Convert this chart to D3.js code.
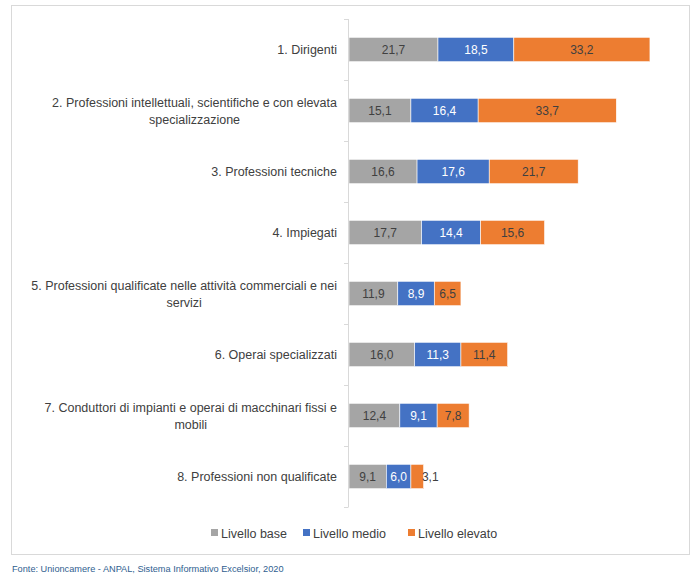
<!DOCTYPE html>
<html>
<head>
<meta charset="utf-8">
<script src="https://cdn.jsdelivr.net/npm/d3@7"></script>
<style>
  html, body { margin: 0; padding: 0; background: #fff; }
  svg { display: block; font-family: "Liberation Sans", Arial, sans-serif; }
</style>
</head>
<body>
<svg id="chart" width="692" height="576"></svg>
<script>
const categories = [
  ["1. Dirigenti"],
  ["2. Professioni intellettuali, scientifiche e con elevata", "specializzazione"],
  ["3. Professioni tecniche"],
  ["4. Impiegati"],
  ["5. Professioni qualificate nelle attività commerciali e nei", "servizi"],
  ["6. Operai specializzati"],
  ["7. Conduttori di impianti e operai di macchinari fissi e", "mobili"],
  ["8. Professioni non qualificate"]
];
const seriesNames = ["Livello base", "Livello medio", "Livello elevato"];
const livelloBase    = [21.7, 15.1, 16.6, 17.7, 11.9, 16.0, 12.4, 9.1];
const livelloMedio   = [18.5, 16.4, 17.6, 14.4, 8.9, 11.3, 9.1, 6.0];
const livelloElevato = [33.2, 33.7, 21.7, 15.6, 6.5, 11.4, 7.8, 3.1];
const colors = ["#A5A5A5", "#4472C4", "#ED7D31"];
const labelColors = ["#404040", "#FFFFFF", "#404040"];
const sourceText = "Fonte: Unioncamere - ANPAL, Sistema Informativo Excelsior, 2020";

const svg = d3.select("#chart");

// frame
svg.append("rect").attr("x", 11.5).attr("y", 5.5).attr("width", 678).attr("height", 549)
  .attr("fill", "#fff").attr("stroke", "#D9D9D9").attr("stroke-width", 1);

const rows = categories.map((c, i) => ({ i, lines: c, vals: [livelloBase[i], livelloMedio[i], livelloElevato[i]] }));

const y = d3.scaleBand().domain(d3.range(categories.length)).range([19, 507]).paddingInner(0.6).paddingOuter(0.3);
const x = d3.scaleLinear().domain([0, 80]).range([349, 349 + 80 * 4.1]);

const stack = d3.stack().keys([0, 1, 2]).value((d, k) => d.vals[k]);
const stacked = stack(rows);

const g = svg.append("g");
stacked.forEach((layer, k) => {
  const lg = g.append("g");
  lg.selectAll("rect").data(layer).join("rect")
    .attr("x", d => x(d[0]))
    .attr("y", d => y(d.data.i))
    .attr("width", d => x(d[1]) - x(d[0]))
    .attr("height", y.bandwidth())
    .attr("fill", colors[k])
    .attr("stroke", "#fff").attr("stroke-width", 0.6);
  lg.selectAll("text").data(layer).join("text")
    .attr("x", d => (x(d[0]) + x(d[1])) / 2 + (k === 2 && d.data.vals[2] < 4 ? 13 : 0))
    .attr("y", d => y(d.data.i) + y.bandwidth() / 2)
    .attr("dy", "0.36em")
    .attr("text-anchor", "middle")
    .attr("font-size", 12)
    .attr("fill", d => (k === 2 && d.data.vals[2] < 4) ? "#404040" : labelColors[k])
    .text(d => d3.format(".1f")(d[1] - d[0]).replace(".", ","));
});

// axis
const axisTop = 19, axisBottom = 507;
svg.append("line").attr("x1", 348.5).attr("x2", 348.5).attr("y1", axisTop).attr("y2", axisBottom)
  .attr("stroke", "#D9D9D9").attr("stroke-width", 1);
const boundaries = d3.range(categories.length + 1).map(i => axisTop + i * (axisBottom - axisTop) / categories.length);
svg.selectAll(".tick").data(boundaries).join("line")
  .attr("x1", 344).attr("x2", 348.5)
  .attr("y1", d => Math.round(d) + 0.5).attr("y2", d => Math.round(d) + 0.5)
  .attr("stroke", "#D9D9D9");

// category labels
const labelRight = 337;
rows.forEach(r => {
  const cy = y(r.i) + y.bandwidth() / 2;
  const n = r.lines.length;
  const lh = 17;
  const t = svg.append("text").attr("font-size", 12.5).attr("fill", "#404040");
  if (n === 1) {
    t.attr("x", labelRight).attr("y", cy).attr("dy", "0.36em").attr("text-anchor", "end").text(r.lines[0]);
  } else {
    t.attr("x", labelRight).attr("y", cy - lh / 2).attr("dy", "0.36em").attr("text-anchor", "end").text(r.lines[0]);
    const w = t.node().getComputedTextLength();
    const center = labelRight - w / 2;
    for (let j = 1; j < n; j++) {
      svg.append("text").attr("font-size", 12.5).attr("fill", "#404040")
        .attr("x", center).attr("y", cy - lh / 2 + j * lh).attr("dy", "0.36em")
        .attr("text-anchor", "middle").text(r.lines[j]);
    }
  }
});

// legend
const legendX = [211, 303, 408];
seriesNames.forEach((s, k) => {
  const lg = svg.append("g").attr("transform", `translate(${legendX[k]},533)`);
  lg.append("rect").attr("x", 0).attr("y", -4).attr("width", 7).attr("height", 7).attr("fill", colors[k]);
  lg.append("text").attr("x", 10).attr("y", 0).attr("dy", "0.36em").attr("font-size", 12.5)
    .attr("fill", "#404040").text(s);
});

// source
svg.append("text").attr("x", 12).attr("y", 569).attr("dy", "0.36em").attr("font-size", 9.2)
  .attr("fill", "#2F5E8F").text(sourceText);
</script>
</body>
</html>
